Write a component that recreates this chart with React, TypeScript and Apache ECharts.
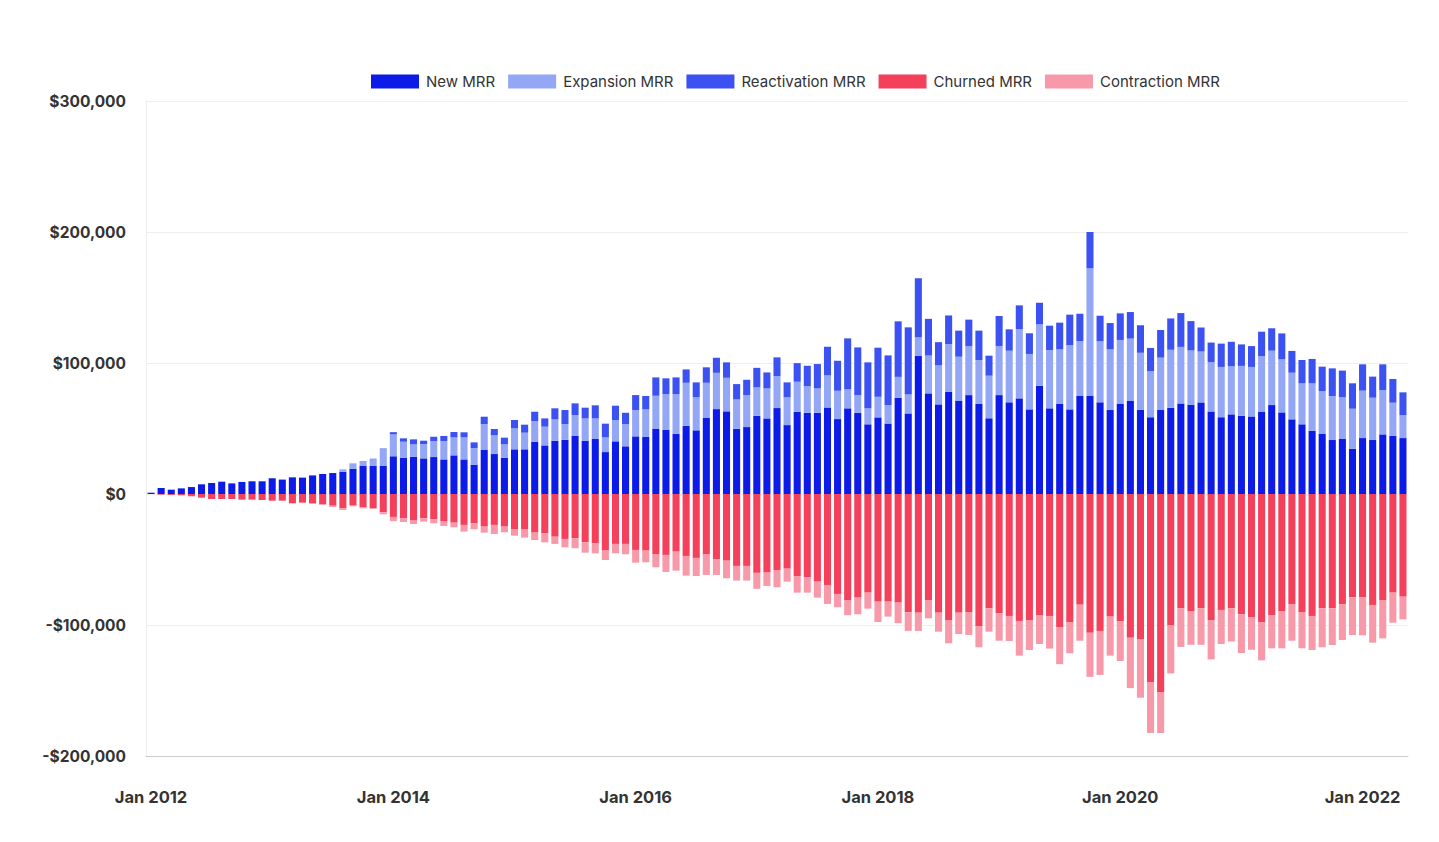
import React, { useEffect, useRef } from "react";
import * as echarts from "echarts";

const MONTHS = ["Jan", "Feb", "Mar", "Apr", "May", "Jun", "Jul", "Aug", "Sep", "Oct", "Nov", "Dec"];
const categories: string[] = [];
for (let y = 2012; y <= 2022; y++) {
  for (let m = 0; m < 12; m++) {
    if (y === 2022 && m > 4) break;
    categories.push(`${MONTHS[m]} ${y}`);
  }
}

const newMRR = [
  1000, 4600, 3300, 4300, 5300, 7400, 8400, 9400, 8100, 9200, 9700, 9700,
  12000, 11000, 12700, 12500, 14200, 15300, 16000, 17000, 19300, 21400, 21400, 21400,
  28800, 27700, 28500, 27200, 28200, 26400, 29500, 26400, 22400, 33600, 30500, 27700,
  34100, 34100, 39900, 37100, 40700, 41300, 44300, 40700, 42000, 32000, 40200, 36400,
  44000, 43500, 49600, 49100, 46000, 52100, 48600, 58000, 64800, 63100, 49800, 51100,
  59700, 57700, 65600, 52600, 62800, 62000, 62000, 66100, 57200, 65400, 62000, 53200,
  58500, 53800, 73400, 61500, 105300, 76800, 68400, 78100, 71300, 75500, 68700, 57800,
  75500, 70000, 73000, 64600, 82700, 65400, 68700, 64600, 74800, 74800, 70000, 64100,
  68700, 71000, 64300, 58600, 64100, 65800, 69100, 68200, 69900, 63000, 58600, 60800,
  59700, 59200, 62900, 67900, 62300, 57000, 53200, 48300, 45800, 41200, 42000, 34600,
  42700, 41200, 45500, 44500, 42700,
];
const expansionMRR = [
  0, 0, 0, 0, 0, 0, 0, 0, 0, 0, 0, 0,
  0, 0, 0, 0, 0, 0, 0, 1800, 4100, 3800, 5700, 13600,
  16700, 12200, 9400, 10900, 12200, 14000, 13700, 16800, 12700, 19800, 14300, 10200,
  16000, 12700, 15800, 14300, 16300, 12100, 16000, 17000, 15700, 11200, 16300, 17000,
  20100, 21100, 25400, 27200, 30300, 32800, 25200, 26900, 27700, 25600, 22400, 24400,
  21700, 22900, 24400, 21200, 22900, 20400, 18600, 24400, 21600, 14500, 13500, 12200,
  15700, 14100, 16000, 14500, 14300, 28900, 29800, 36400, 33500, 37500, 33600, 32500,
  37500, 39400, 52900, 42300, 46800, 44500, 41700, 49100, 42000, 97500, 46600, 46300,
  48900, 47600, 43500, 35100, 40000, 44300, 43200, 41400, 38900, 37600, 38400, 36700,
  38100, 37800, 42300, 41500, 40500, 35600, 31300, 36200, 32800, 33600, 31800, 30500,
  36200, 32300, 33900, 25200, 17600,
];
const reactivationMRR = [
  0, 0, 0, 0, 0, 0, 0, 0, 0, 0, 0, 0,
  0, 0, 0, 0, 0, 0, 0, 0, 0, 0, 0, 0,
  1700, 2600, 3800, 2600, 3300, 3900, 4100, 3900, 4300, 5600, 4800, 5100,
  6400, 6100, 7100, 6300, 8400, 10700, 8900, 8200, 10000, 10500, 10900, 8600,
  11400, 10200, 14000, 12000, 12700, 10200, 11400, 11800, 11500, 11800, 11700, 11700,
  14900, 12200, 14300, 11400, 14200, 15500, 18600, 21900, 22900, 38900, 36400, 35100,
  37500, 37900, 42400, 51200, 45100, 28000, 17700, 21800, 19900, 20100, 22400, 15300,
  22900, 16300, 18100, 15800, 16500, 18600, 20400, 23200, 20800, 27700, 19500, 20100,
  20300, 20300, 21000, 17800, 21100, 23900, 25800, 22400, 18300, 15000, 17800, 18700,
  16400, 15900, 18700, 17100, 19800, 16600, 17800, 18600, 18600, 21100, 20400, 19400,
  20100, 16100, 19600, 18100, 17300,
];
const churnedMRR = [
  0, -500, -700, -1000, -1500, -2800, -3800, -3800, -3800, -4300, -4300, -4600,
  -5100, -5100, -7100, -6600, -7100, -7900, -8900, -10900, -8400, -10200, -10700, -14000,
  -17500, -18400, -20300, -18600, -19300, -20600, -21900, -23600, -22400, -24900, -23600, -24900,
  -26700, -26700, -29500, -30000, -32600, -34300, -33800, -36900, -37600, -43200, -38100, -38100,
  -42700, -43200, -45800, -46500, -44000, -47300, -48800, -45800, -49800, -50900, -54900, -54900,
  -60200, -60000, -58000, -57000, -62600, -63600, -66900, -69400, -76300, -80900, -79100, -75300,
  -82200, -82200, -82900, -90300, -90600, -80900, -90600, -96200, -90600, -90100, -100800, -87300,
  -91100, -93100, -96900, -96200, -92700, -93100, -101500, -98000, -84500, -106000, -104500, -93600,
  -97200, -109700, -111000, -143800, -151500, -100300, -87100, -89300, -87100, -96200, -88500, -87100,
  -91800, -94000, -98000, -92400, -89300, -84000, -90100, -93100, -87300, -87300, -84200, -78900,
  -78900, -84700, -80900, -75300, -78400,
];
const contractionMRR = [
  0, 0, 0, 0, -400, 0, 0, 0, 0, 0, 0, 0,
  0, 0, 0, 0, -500, -500, -1000, -1300, -1000, -700, -700, -1500,
  -3200, -3000, -2600, -2500, -3100, -3800, -3500, -5100, -4500, -4600, -6900, -4300,
  -5100, -6600, -5600, -6900, -5500, -6400, -7600, -7900, -7700, -7200, -7200, -7900,
  -9700, -8900, -10100, -13000, -14500, -15000, -13800, -16000, -12000, -13400, -11200, -11200,
  -12200, -10200, -13200, -9900, -12700, -11700, -12200, -14500, -10100, -11600, -12700, -12200,
  -15500, -11400, -15700, -14200, -13900, -14000, -14500, -17800, -16300, -17500, -16200, -17800,
  -20900, -19100, -26500, -22900, -21800, -24900, -28400, -23600, -27500, -33600, -33600, -29800,
  -30300, -38500, -44500, -38600, -31000, -36700, -29600, -25800, -28000, -30100, -26000, -25500,
  -29600, -24900, -29000, -25400, -28500, -28000, -27700, -26000, -29700, -28000, -27300, -28700,
  -29000, -28800, -29300, -22900, -17300,
];

const COLORS = {
  newMRR: "#0c1be8",
  expansion: "#94a6f6",
  reactivation: "#3b51f1",
  churned: "#f4405a",
  contraction: "#f899aa",
};

const FONT = "Inter, Roboto, 'Noto Sans', sans-serif";

function fmtMoney(v: number): string {
  const abs = Math.abs(v).toLocaleString("en-US");
  return (v < 0 ? "-$" : "$") + abs;
}

export default function App() {
  const ref = useRef<HTMLDivElement>(null);
  useEffect(() => {
    if (!ref.current) return;
    const chart = echarts.init(ref.current, undefined, { renderer: "svg" });
    const mk = (name: string, data: number[], color: string) => ({
      name,
      type: "bar",
      stack: "mrr",
      data,
      barCategoryGap: "30%",
      itemStyle: { color },
      emphasis: { disabled: true },
    });
    chart.setOption({
      animation: false,
      grid: { left: 138, right: 23, top: 93, bottom: 78, containLabel: false },
      legend: {
        left: 358,
        top: 61,
        itemWidth: 48,
        itemHeight: 14,
        itemGap: 13,
        icon: "rect",
        textStyle: { fontFamily: FONT, fontSize: 15, color: "#333", padding: [0, 0, 0, 2] },
        data: ["New MRR", "Expansion MRR", "Reactivation MRR", "Churned MRR", "Contraction MRR"],
      },
      xAxis: {
        type: "category",
        data: categories,
        axisLine: { onZero: false, lineStyle: { color: "#cccccc", width: 1 } },
        axisTick: { show: false },
        axisLabel: {
          interval: 23,
          margin: 32,
          fontFamily: FONT,
          fontSize: 16.5,
          fontWeight: "bold",
          color: "#333",
        },
      },
      yAxis: {
        type: "value",
        min: -200000,
        max: 300000,
        interval: 100000,
        axisLine: { show: true, lineStyle: { color: "#eeeeee" } },
        axisTick: { show: false },
        splitLine: { lineStyle: { color: "#eeeeee" } },
        axisLabel: {
          formatter: (v: number) => fmtMoney(v),
          margin: 20,
          fontFamily: FONT,
          fontSize: 15.5,
          fontWeight: "bold",
          color: "#333",
        },
      },
      series: [
        mk("New MRR", newMRR, COLORS.newMRR),
        mk("Expansion MRR", expansionMRR, COLORS.expansion),
        mk("Reactivation MRR", reactivationMRR, COLORS.reactivation),
        mk("Churned MRR", churnedMRR, COLORS.churned),
        mk("Contraction MRR", contractionMRR, COLORS.contraction),
      ],
    });
    return () => chart.dispose();
  }, []);
  return <div ref={ref} style={{ width: 1423, height: 826 }} />;
}
